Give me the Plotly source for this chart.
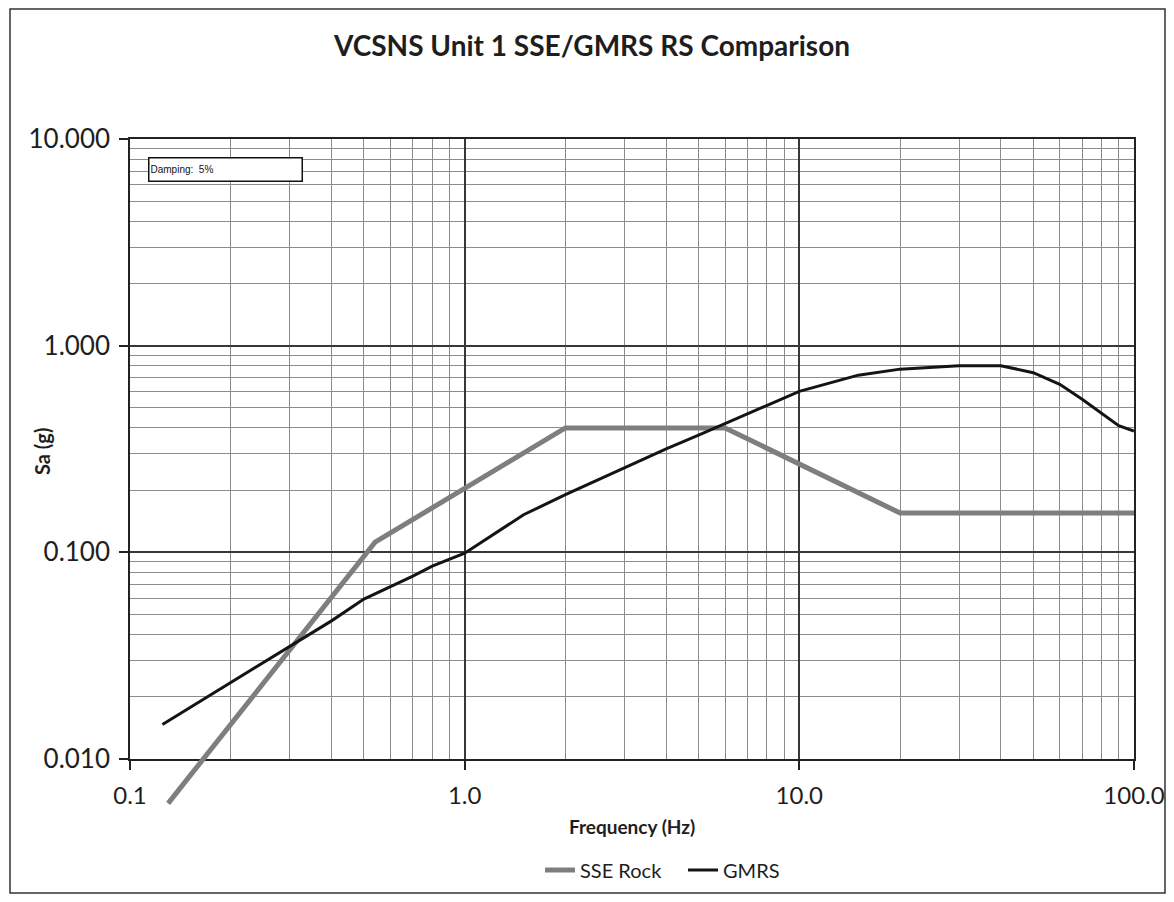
import plotly.graph_objects as go

# ---------------- data ----------------
sse_freq = [0.13, 0.54, 2.0, 6.0, 20.0, 100.0]
sse_sa = [0.0061, 0.112, 0.40, 0.40, 0.155, 0.155]

gmrs_freq = [0.125, 0.2, 0.3, 0.4, 0.5, 0.6, 0.7, 0.8, 1.0, 1.5, 2.0, 3.0, 4.0, 5.0,
             6.0, 7.0, 8.0, 10.0, 15.0, 20.0, 30.0, 40.0, 50.0, 60.0, 70.0, 80.0, 90.0, 100.0]
gmrs_sa = [0.0147, 0.0234, 0.035, 0.0466, 0.0594, 0.068, 0.0767, 0.0857, 0.099, 0.152, 0.19,
           0.256, 0.317, 0.369, 0.419, 0.468, 0.515, 0.601, 0.72, 0.77, 0.80, 0.80, 0.74, 0.65,
           0.55, 0.47, 0.41, 0.386]

x_tickvals = [0.1, 1, 10, 100]
x_ticktext = ["0.1", "1.0", "10.0", "100.0"]
y_tickvals = [0.01, 0.1, 1, 10]
y_ticktext = ["0.010", "0.100", "1.000", "10.000"]

title_text = "VCSNS Unit 1 SSE/GMRS RS Comparison"
x_title = "Frequency (Hz)"
y_title = "Sa (g)"
damping_text = "Damping:  5%"

# ---------------- layout geometry ----------------
# page pixels; the html body adds an 8px margin around the figure
OFF = 8
W, H = 1174 - 2 * OFF, 902 - 2 * OFF
PAGE_PL, PAGE_PR = 130, 1134      # plot left / right on page
PAGE_PT, PAGE_PB = 139, 759       # plot top / bottom axis line on page
PL, PR, PT, PB = PAGE_PL - OFF, PAGE_PR - OFF, PAGE_PT - OFF, PAGE_PB - OFF
MB = 70
paper_bottom = H - MB
paper_h = paper_bottom - PT
paper_w = PR - PL


def px_x(page_p):
    return (page_p - OFF - PL) / paper_w


def px_y(page_p):
    return (paper_bottom - (page_p - OFF)) / paper_h


y_dom0 = (paper_bottom - PB) / paper_h
px_per_dec = (PB - PT) / 3.0
ext_low = -2 - (paper_bottom - PB) / px_per_dec

minor_x = [m * 10 ** e for e in (-1, 0, 1) for m in range(2, 10)]
minor_y = [m * 10 ** e for e in (-2, -1, 0) for m in range(2, 10)]

FONT = "Lato"
TXT = "#1e1e1e"

fig = go.Figure()
# empty placeholder so the gridded main subplot (x, y) is created
fig.add_trace(go.Scatter(x=[], y=[], xaxis="x", yaxis="y", showlegend=False,
                         hoverinfo="skip"))
fig.add_trace(go.Scatter(x=sse_freq, y=sse_sa, mode="lines", name="SSE Rock",
                         line=dict(color="#7e7e7e", width=5), xaxis="x2", yaxis="y2"))
fig.add_trace(go.Scatter(x=gmrs_freq, y=gmrs_sa, mode="lines", name="GMRS",
                         line=dict(color="#141414", width=3), xaxis="x2", yaxis="y2"))

fig.update_layout(
    width=W, height=H,
    margin=dict(l=PL, r=W - PR, t=PT, b=MB, autoexpand=False),
    paper_bgcolor="white", plot_bgcolor="rgba(0,0,0,0)",
    font=dict(family=FONT, color=TXT),
    title=dict(text="<b>" + title_text + "</b>", x=px_x(592), xref="paper",
               xanchor="center", y=1 - (46 - OFF) / H, yanchor="middle",
               yref="container", font=dict(size=28, family=FONT, color=TXT)),
    xaxis=dict(type="log", range=[-1, 2], anchor="y", automargin=False,
               tickvals=x_tickvals, ticktext=x_ticktext,
               ticks="outside", ticklen=9, tickwidth=1.5, tickcolor="#222",
               tickfont=dict(size=24, family=FONT, color=TXT),
               ticklabelstandoff=5, ticklabeloverflow="allow",
               showline=True, linecolor="#222", linewidth=1.5, mirror=True,
               showgrid=True, gridcolor="#383838", gridwidth=1.7,
               minor=dict(tickvals=minor_x, showgrid=True, gridcolor="#8c8c8c",
                          gridwidth=1.3, ticks=""),
               zeroline=False),
    yaxis=dict(type="log", range=[-2, 1], domain=[y_dom0, 1], anchor="x", automargin=False,
               tickvals=y_tickvals, ticktext=y_ticktext,
               ticks="outside", ticklen=9, tickwidth=1.5, tickcolor="#222",
               tickfont=dict(size=26, family=FONT, color=TXT),
               ticklabelstandoff=4, ticklabeloverflow="allow",
               showline=True, linecolor="#222", linewidth=1.5, mirror=True,
               showgrid=True, gridcolor="#383838", gridwidth=1.7,
               minor=dict(tickvals=minor_y, showgrid=True, gridcolor="#8c8c8c",
                          gridwidth=1.3, ticks=""),
               zeroline=False),
    xaxis2=dict(type="log", range=[-1, 2], domain=[0, 1], anchor="y2", matches="x",
                visible=False, showgrid=False, zeroline=False),
    yaxis2=dict(type="log", range=[ext_low, 1], domain=[0, 1], anchor="x2",
                visible=False, showgrid=False, zeroline=False),
    showlegend=True,
    legend=dict(orientation="h", x=px_x(540), xanchor="left",
                y=px_y(870), yanchor="middle",
                entrywidth=98, entrywidthmode="pixels",
                font=dict(size=20, family=FONT, color=TXT),
                bgcolor="rgba(0,0,0,0)"),
)

fig.add_annotation(text="<b>" + x_title + "</b>", xref="paper", yref="paper",
                   x=px_x(632), y=px_y(826), xanchor="center", yanchor="middle",
                   showarrow=False, font=dict(size=19, family=FONT, color=TXT))
fig.add_annotation(text="<b>" + y_title + "</b>", xref="paper", yref="paper",
                   x=px_x(42), y=px_y(452), xanchor="center", yanchor="middle",
                   showarrow=False, textangle=-90,
                   font=dict(size=20, family=FONT, color=TXT))
fig.add_annotation(text=damping_text, xref="paper", yref="paper",
                   x=px_x(148), y=px_y(157), xanchor="left", yanchor="top",
                   showarrow=False, align="left", width=150, height=20,
                   bordercolor="#111", borderwidth=1.5, borderpad=1, bgcolor="white",
                   font=dict(size=10, family="Liberation Sans", color="#111"))

# outer chart frame
fig.add_shape(type="rect", xref="paper", yref="paper",
              x0=px_x(10), x1=px_x(1165), y0=px_y(893), y1=px_y(9),
              line=dict(color="#333", width=1.5), fillcolor="rgba(0,0,0,0)", layer="below")

fig.write_html("out.html")
